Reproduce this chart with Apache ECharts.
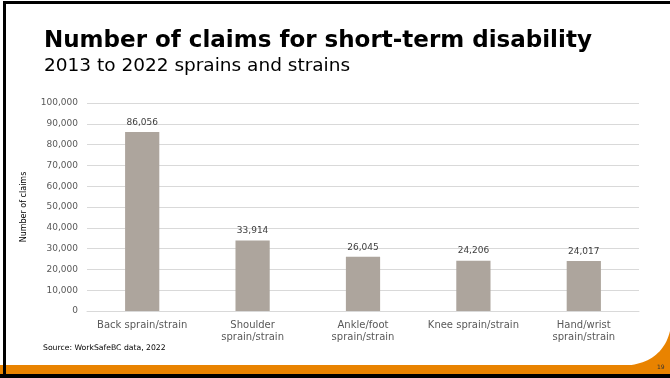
<!DOCTYPE html>
<html>
<head>
<meta charset="utf-8">
<script src="https://cdn.jsdelivr.net/npm/echarts@6/dist/echarts.min.js"></script>
<style>
  html, body { margin: 0; padding: 0; background: #fff; }
  #chart { width: 670px; height: 378px; }
</style>
</head>
<body>
<div id="chart"></div>
<script>
  // 类目与数据
  var categories = ['Back sprain/strain', 'Shoulder\nsprain/strain', 'Ankle/foot\nsprain/strain', 'Knee sprain/strain', 'Hand/wrist\nsprain/strain']
  var claims = [86056, 33914, 26045, 24206, 24017]

  var font = 'DejaVu Sans, Verdana, sans-serif'

  // 右下角橙色弧形装饰（二次贝塞尔近似）
  function swoosh() {
    var pts = []
    var p0 = [670, 331], c = [662, 364], p1 = [622, 366]
    for (var i = 0; i <= 24; i++) {
      var t = i / 24
      var x = (1 - t) * (1 - t) * p0[0] + 2 * t * (1 - t) * c[0] + t * t * p1[0]
      var y = (1 - t) * (1 - t) * p0[1] + 2 * t * (1 - t) * c[1] + t * t * p1[1]
      pts.push([x, y])
    }
    pts.push([670, 367])
    return pts
  }

  var chart = echarts.init(document.getElementById('chart'))
  var option = {
    backgroundColor: '#ffffff',
    animation: false,
    grid: { left: 87, right: 31, top: 103, bottom: 67 },
    xAxis: {
      type: 'category',
      data: categories,
      axisLine: { show: true, lineStyle: { color: '#d9d9d9' } },
      axisTick: { show: false },
      axisLabel: { color: '#595959', fontFamily: font, fontSize: 10, lineHeight: 12, margin: 8, interval: 0 }
    },
    yAxis: {
      type: 'value',
      min: 0,
      max: 100000,
      interval: 10000,
      name: 'Number of claims',
      nameLocation: 'middle',
      nameGap: 59,
      nameRotate: 90,
      nameTextStyle: { color: '#000', fontFamily: font, fontSize: 8 },
      axisLine: { show: false },
      axisTick: { show: false },
      splitLine: { lineStyle: { color: '#d9d9d9' } },
      axisLabel: {
        color: '#595959', fontFamily: font, fontSize: 9, margin: 9,
        formatter: function (v) { return v.toLocaleString('en-US') }
      }
    },
    series: [
      {
        type: 'bar',
        data: claims,
        barWidth: '31%',
        itemStyle: { color: '#ada59d' },
        label: {
          show: true, position: 'top', distance: 5,
          color: '#404040', fontFamily: font, fontSize: 9,
          formatter: function (p) { return p.value.toLocaleString('en-US') }
        }
      }
    ],
    graphic: [
      // 幻灯片装饰
      { type: 'rect', silent: true, shape: { x: 0, y: 365, width: 670, height: 9 }, style: { fill: '#e98300' } },
      { type: 'polygon', silent: true, shape: { points: swoosh() }, style: { fill: '#e98300' } },
      { type: 'rect', silent: true, shape: { x: 0, y: 374, width: 670, height: 4 }, style: { fill: '#000' } },
      { type: 'rect', silent: true, shape: { x: 3, y: 1, width: 3, height: 377 }, style: { fill: '#000' } },
      { type: 'rect', silent: true, shape: { x: 3, y: 1, width: 667, height: 3 }, style: { fill: '#000' } },
      { type: 'text', x: 44, y: 30, style: { text: 'Number of claims for short-term disability', fill: '#000', font: 'bold 23px ' + font } },
      { type: 'text', x: 44, y: 57, style: { text: '2013 to 2022 sprains and strains', fill: '#000', font: '18.5px ' + font } },
      { type: 'text', x: 43, y: 348, style: { text: 'Source: WorkSafeBC data, 2022', fill: '#000', font: '7.7px ' + font, verticalAlign: 'middle' } },
      { type: 'text', x: 657, y: 367, style: { text: '19', fill: '#333', font: '6px ' + font, verticalAlign: 'middle' } }
    ]
  }
  chart.setOption(option)
</script>
</body>
</html>
